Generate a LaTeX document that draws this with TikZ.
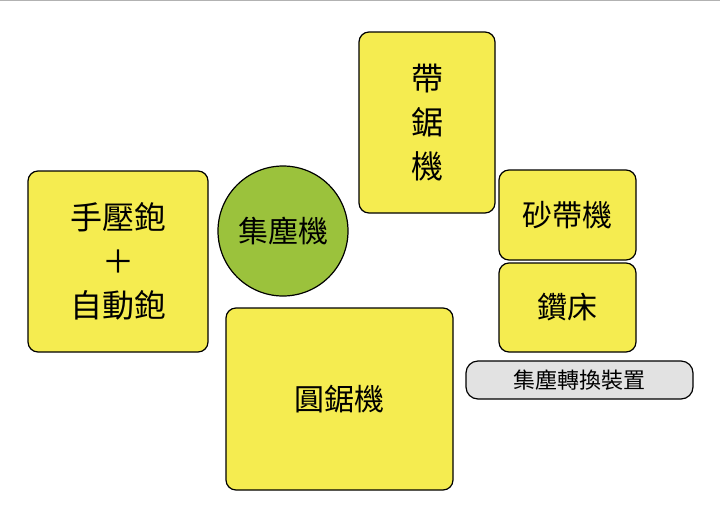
\documentclass[tikz,border=0pt]{standalone}
\usepackage{fontspec}
\setmainfont{Noto Sans CJK TC}
\begin{document}
\begin{tikzpicture}[x=1pt,y=-1pt,
  box/.style={draw=black,line width=1.2pt,fill=yfill,rounded corners=10pt},
  lab/.style={font=\fontsize{30}{38}\selectfont,align=center}]
\definecolor{yfill}{HTML}{F5EC50}
\definecolor{gfill}{HTML}{9BC23C}
\definecolor{pfill}{HTML}{E2E2E2}
\useasboundingbox (0,0) rectangle (720,523);
\fill[white] (0,0) rectangle (720,523);
\draw[gray!60] (0,0.5) -- (720,0.5);
\draw[box] (28,171) rectangle (208,352);
\node[lab,font=\fontsize{32}{44}\selectfont] (a) at (118,261) {手壓鉋\\＋\\自動鉋};
\draw[box] (359,32) rectangle (495,213);
\node[lab,font=\fontsize{32}{44}\selectfont] (b) at (427,123) {帶\\鋸\\機};
\draw[box] (499,170) rectangle (636,260);
\node[lab] (c) at (567.5,215) {砂帶機};
\draw[box] (499,263) rectangle (636,352);
\node[lab] (d) at (567.5,307) {鑽床};
\draw[box] (226,308) rectangle (453,490);
\node[lab] (e) at (339.5,399) {圓鋸機};
\draw[line width=1.2pt,fill=gfill] (283,231) circle (65);
\node[lab] (f) at (283,231) {集塵機};
\draw[line width=1.2pt,fill=pfill,rounded corners=12pt] (466,361) rectangle (693,399);
\node[font=\fontsize{22}{26}\selectfont] (g) at (579.5,380) {集塵轉換裝置};
\end{tikzpicture}
\end{document}
